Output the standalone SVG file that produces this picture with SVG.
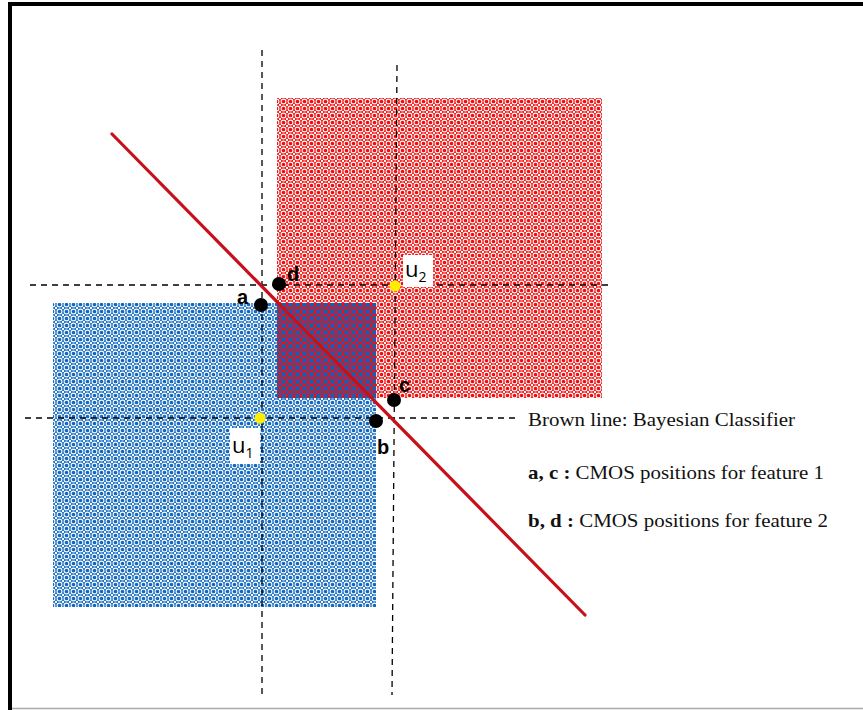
<svg xmlns="http://www.w3.org/2000/svg" width="863" height="710" viewBox="0 0 863 710">
<style>
.dash{stroke:#000;stroke-width:1.3;stroke-dasharray:6,5;fill:none}
.pt{fill:#000}
.mu{fill:#ffee00}
.lbl{font-family:"Liberation Sans",Arial,sans-serif;font-weight:bold;font-size:20px;fill:#000}
.ulbl{font-family:"Open Sans","DejaVu Sans",sans-serif;font-size:22px;fill:#000}
.leg{font-family:"Liberation Serif","Times New Roman",serif;font-size:19.5px;fill:#111}
</style>
<defs>
<pattern id="pRed" width="7" height="7" patternUnits="userSpaceOnUse">
<rect width="7" height="7" fill="#f20d0d"/>
<circle cx="3.5" cy="3.5" r="2.4" fill="none" stroke="#fff" stroke-width="1.1"/>
<circle cx="0" cy="0" r="1.2" fill="#fff"/>
<circle cx="7" cy="0" r="1.2" fill="#fff"/>
<circle cx="0" cy="7" r="1.2" fill="#fff"/>
<circle cx="7" cy="7" r="1.2" fill="#fff"/>
</pattern>
<pattern id="pBlue" width="7" height="7" patternUnits="userSpaceOnUse">
<rect width="7" height="7" fill="#1068c0"/>
<circle cx="3.5" cy="3.5" r="2.4" fill="none" stroke="#fff" stroke-width="1.1"/>
<circle cx="0" cy="0" r="1.2" fill="#fff"/>
<circle cx="7" cy="0" r="1.2" fill="#fff"/>
<circle cx="0" cy="7" r="1.2" fill="#fff"/>
<circle cx="7" cy="7" r="1.2" fill="#fff"/>
</pattern>
<pattern id="pMix" width="7" height="7" patternUnits="userSpaceOnUse">
<rect width="7" height="7" fill="#e8101a"/>
<circle cx="3.5" cy="3.5" r="2.5" fill="#1a5cb0"/>
<circle cx="0" cy="0" r="1.6" fill="#1a5cb0"/>
<circle cx="7" cy="0" r="1.6" fill="#1a5cb0"/>
<circle cx="0" cy="7" r="1.6" fill="#1a5cb0"/>
<circle cx="7" cy="7" r="1.6" fill="#1a5cb0"/>
</pattern>
</defs>
<rect width="863" height="710" fill="#fff"/>
<g id="frame">
<line x1="10" y1="2" x2="10" y2="710" stroke="#000" stroke-width="4"/>
<line x1="8" y1="4" x2="863" y2="4" stroke="#000" stroke-width="4"/>
<line x1="12" y1="708.5" x2="863" y2="708.5" stroke="#aaa" stroke-width="1.5"/>
</g>
<g id="class2">
<rect x="277" y="98" width="325" height="300" fill="url(#pRed)"/>
</g>
<g id="class1">
<rect x="53" y="303" width="323" height="304" fill="url(#pBlue)"/>
</g>
<g id="overlap">
<rect x="277" y="303" width="99" height="95" fill="url(#pMix)"/>
</g>
<g id="connectors">
<line class="dash" x1="262" y1="50" x2="262" y2="695"/>
<line class="dash" x1="397" y1="65" x2="392" y2="695"/>
<line class="dash" x1="30" y1="285" x2="610" y2="285"/>
<line class="dash" x1="25" y1="418" x2="520" y2="418"/>
<line x1="112" y1="134" x2="585" y2="615" stroke="#c8101a" stroke-width="3.2" stroke-linecap="round"/>
</g>
<g id="points">
<circle class="pt" cx="279" cy="284" r="7"/>
<circle class="pt" cx="261" cy="305" r="7"/>
<circle class="pt" cx="394" cy="400" r="7"/>
<circle class="pt" cx="376" cy="421" r="7"/>
<circle class="mu" cx="395" cy="286" r="5.5"/>
<circle class="mu" cx="260" cy="418" r="5.5"/>
</g>
<g id="labels">
<text class="lbl" x="287" y="281">d</text>
<text class="lbl" x="237" y="304">a</text>
<text class="lbl" x="399" y="392">c</text>
<text class="lbl" x="377" y="454">b</text>
<rect x="403" y="255" width="30" height="32" fill="#fff"/>
<text class="ulbl" x="405" y="277">u<tspan font-size="14" dy="5">2</tspan></text>
<rect x="230" y="428" width="30" height="36" fill="#fff"/>
<text class="ulbl" x="232" y="453">u<tspan font-size="14" dy="5">1</tspan></text>
</g>
<g id="legend">
<text class="leg" x="528" y="426" textLength="267" lengthAdjust="spacingAndGlyphs">Brown line: Bayesian Classifier</text>
<text class="leg" x="528" y="479" textLength="296" lengthAdjust="spacingAndGlyphs"><tspan font-weight="bold">a, c :</tspan> CMOS positions for feature 1</text>
<text class="leg" x="528" y="527" textLength="300" lengthAdjust="spacingAndGlyphs"><tspan font-weight="bold">b, d :</tspan> CMOS positions for feature 2</text>
</g>
</svg>
